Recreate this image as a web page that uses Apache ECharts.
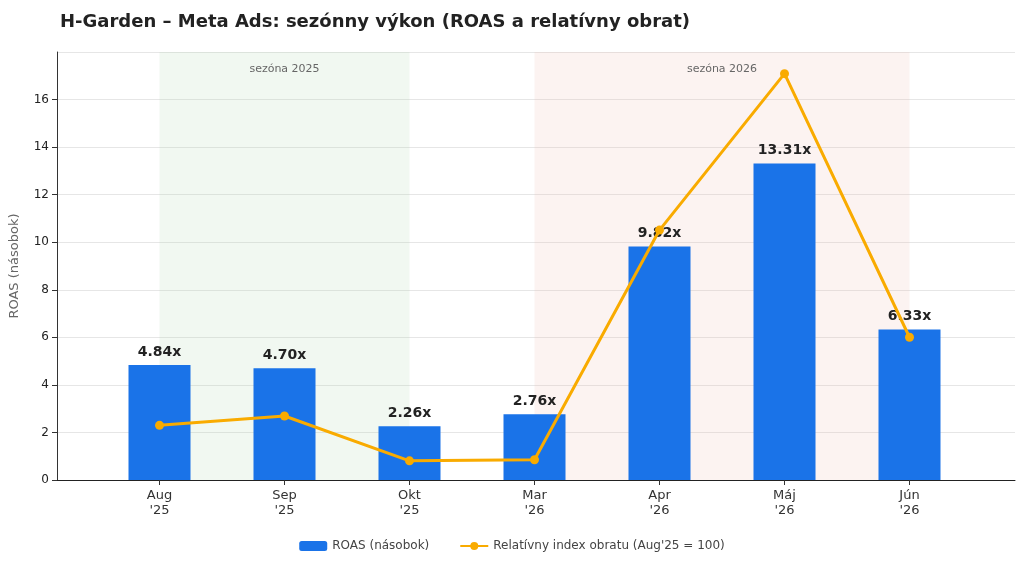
<!DOCTYPE html>
<html><head><meta charset="utf-8">
<script src="https://cdn.jsdelivr.net/npm/echarts@6/dist/echarts.min.js"></script>
<style>html,body{margin:0;padding:0;background:#fff}#c{width:1024px;height:571px}</style>
</head><body><div id="c"></div>
<script>
var months = ["Aug\n'25", "Sep\n'25", "Okt\n'25", "Mar\n'26", "Apr\n'26", "Máj\n'26", "Jún\n'26"];
var roas = [4.84, 4.70, 2.26, 2.76, 9.82, 13.31, 6.33];
var revenueIndex = [100, 117, 35, 37, 457, 743, 261];
var seasons = ["sezóna 2025", "sezóna 2026"];

var chart = echarts.init(document.getElementById('c'));
var font = 'DejaVu Sans';
var option = {
    textStyle: { fontFamily: font },
    animation: false,
    title: {
        text: 'H-Garden – Meta Ads: sezónny výkon (ROAS a relatívny obrat)',
        left: 55, top: 8,
        textStyle: { fontSize: 18, fontWeight: 'bold', color: '#222', fontFamily: font }
    },
    legend: {
        bottom: 14, itemGap: 30, itemWidth: 28, itemHeight: 10,
        textStyle: { fontSize: 12, color: '#444' },
        data: ['ROAS (násobok)', 'Relatívny index obratu (Aug\'25 = 100)']
    },
    grid: [
        { left: 97, right: 52, top: 52, bottom: 91 },
        { left: 55, right: 9, top: 52, bottom: 91 }
    ],
    xAxis: [
        { type: 'category', gridIndex: 0, data: months,
          axisLine: { show: false }, axisTick: { show: true, alignWithLabel: true, lineStyle: { color: '#333' } },
          axisLabel: { color: '#333', fontSize: 13, lineHeight: 15, margin: 8 } },
        { type: 'value', gridIndex: 1, min: 0, max: 1, show: true,
          axisLine: { show: true, lineStyle: { color: '#222' } }, axisTick: { show: false },
          axisLabel: { show: false }, splitLine: { show: false } }
    ],
    yAxis: [
        { type: 'value', gridIndex: 0, min: 0, max: 18, interval: 2, show: false },
        { type: 'value', gridIndex: 0, min: 0, max: 18 / 2.3 * 100, show: false },
        { type: 'value', gridIndex: 1, min: 0, max: 18, interval: 2,
          name: 'ROAS (násobok)', nameLocation: 'middle', nameGap: 36,
          nameTextStyle: { color: '#666', fontSize: 13 },
          axisLine: { show: true, lineStyle: { color: '#333' } },
          axisTick: { show: true },
          axisLabel: { color: '#222', fontSize: 12, showMaxLabel: false },
          splitLine: { lineStyle: { color: '#e6e6e6' } } }
    ],
    series: [
        { name: 'ROAS (násobok)', type: 'bar', xAxisIndex: 0, yAxisIndex: 0, data: roas,
          barWidth: 62, itemStyle: { color: '#1a73e8' },
          label: { show: true, position: 'top', formatter: function (p) { return p.value.toFixed(2) + 'x'; },
                   fontWeight: 'bold', fontSize: 14, color: '#222', distance: 6 },
          markArea: {
              silent: true,
              label: { position: 'insideTop', color: '#666', fontSize: 11, distance: 12 },
              data: [
                  [{ name: seasons[0], xAxis: months[0], itemStyle: { color: 'rgba(180,215,180,0.18)' } }, { xAxis: months[2] }],
                  [{ name: seasons[1], xAxis: months[3], itemStyle: { color: 'rgba(240,190,180,0.18)' } }, { xAxis: months[6] }]
              ]
          }
        },
        { name: 'Relatívny index obratu (Aug\'25 = 100)', type: 'line', xAxisIndex: 0, yAxisIndex: 1,
          data: revenueIndex, symbol: 'circle', symbolSize: 9, z: 5,
          lineStyle: { color: '#f9ab00', width: 3 }, itemStyle: { color: '#f9ab00' } }
    ]
};
chart.setOption(option);
</script></body></html>
